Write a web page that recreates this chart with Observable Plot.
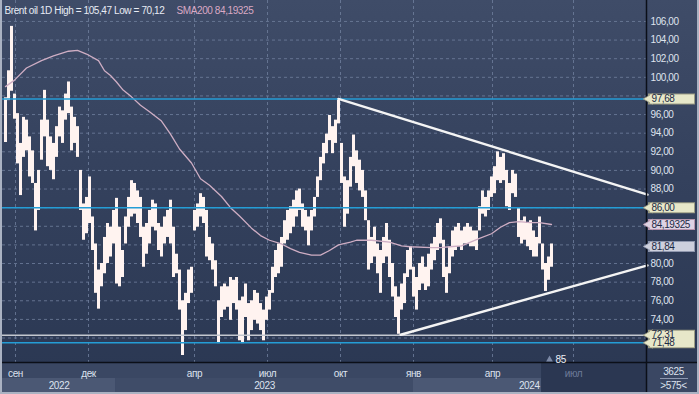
<!DOCTYPE html>
<html><head><meta charset="utf-8">
<script src="https://cdn.jsdelivr.net/npm/d3@7"></script>
<script src="https://cdn.jsdelivr.net/npm/@observablehq/plot@0.6"></script>
<style>
html,body{margin:0;padding:0;background:#2f3c58;}
#chart svg{display:block;}
#chart svg text{letter-spacing:-0.4px;}
</style></head><body><div id="chart"></div>
<script>
// ---- data (bar index = trading-time position, ~2.5 sessions per bar) ----
const highs = [97.8,100.7,105.47,98.2,96.1,92.9,95.7,95.4,93.6,92.1,88.6,90.0,95.4,98.6,95.4,93.6,92.9,94.7,96.8,96.4,
98.2,99.5,96.8,95.7,94.7,90.0,86.4,87.1,89.3,85.0,82.1,79.3,80.0,82.8,84.3,83.9,85.7,87.0,83.9,81.4,
85.0,87.1,88.9,88.6,87.8,87.1,83.9,84.3,85.7,86.8,86.4,84.3,83.9,85.0,85.7,86.8,83.9,81.0,79.3,76.0,
76.8,79.3,79.6,85.7,86.4,87.5,87.1,85.7,82.8,82.1,80.3,76.0,77.5,77.8,77.5,78.5,78.2,78.5,76.0,76.4,
77.8,75.7,76.0,77.1,76.8,75.7,75.0,76.4,77.1,79.6,81.4,82.1,82.8,84.6,85.7,86.1,86.8,87.8,88.0,86.4,
85.7,85.0,85.7,87.1,89.3,91.4,92.9,93.9,95.9,94.7,95.4,97.68,92.9,89.3,88.9,91.4,93.8,92.1,91.1,90.0,
87.8,84.6,82.8,83.9,82.1,81.4,82.8,84.3,82.5,80.0,77.5,76.4,77.8,78.9,81.4,81.8,79.6,78.5,80.0,80.7,
79.6,81.0,82.1,82.8,84.3,84.8,82.5,79.6,81.8,83.5,83.9,84.3,83.5,83.9,84.3,83.9,83.5,83.5,86.1,87.8,
87.1,87.8,89.3,90.4,92.0,91.4,91.8,90.0,88.6,90.0,89.6,85.9,84.6,85.0,84.3,84.6,83.5,82.8,85.0,82.1,
80.0,80.7,82.1];
const lows = [93.0,97.5,98.5,95.5,90.7,87.3,91.4,92.1,89.3,88.6,83.5,85.7,91.1,93.6,90.4,90.0,89.0,91.4,93.6,92.9,
95.4,96.1,92.1,92.9,91.4,85.7,82.5,83.2,84.3,81.4,76.8,75.1,77.5,78.9,80.0,80.7,82.1,77.8,77.5,78.5,
82.1,83.9,85.0,85.3,84.3,82.8,79.6,81.0,82.1,83.9,83.5,81.4,80.7,82.1,82.8,82.1,78.5,78.9,75.0,70.12,
72.8,75.7,76.8,83.5,83.9,85.0,84.3,80.7,80.3,79.3,77.5,71.4,74.2,75.0,75.3,73.9,75.7,75.0,71.7,71.4,
74.2,71.7,72.8,73.9,73.5,72.8,71.7,73.9,75.0,76.8,78.5,78.9,79.6,82.1,82.5,83.2,83.9,85.0,85.7,83.9,
83.5,81.9,83.5,85.0,87.1,88.9,90.7,91.8,93.2,91.8,92.9,95.0,88.6,83.9,85.3,88.2,90.4,88.6,87.8,87.1,
84.6,79.3,80.0,80.7,78.9,76.8,80.0,80.7,78.5,76.4,74.2,72.4,75.0,75.7,78.5,79.3,76.4,75.0,77.1,77.8,
77.1,77.5,79.3,80.3,81.4,82.1,78.5,76.8,78.9,80.7,81.4,81.8,81.4,82.1,82.1,81.8,81.8,81.4,83.5,85.3,
85.0,85.7,87.1,87.5,88.9,88.6,88.9,86.1,85.7,87.5,87.1,82.8,82.1,82.5,81.8,81.4,80.7,80.7,82.1,79.3,
77.0,78.2,79.6];
const smaIdx  = [1,4,8,13,17,22,25,28,32,34,36,38,40,43,46,49,53,56,59,63,66,69,73,76,79,83,86,89,93,96,99,103,106,109,112,116,118,123,129,133,136,143,146,149,153,156,159,163,166,169,172,176,179,183];
const smaVals = [99.0,99.7,101.0,101.8,102.3,102.8,102.9,102.5,101.8,100.7,100.2,99.5,98.7,97.9,97.0,96.3,95.3,93.9,92.3,90.8,89.1,88.4,87.2,86.0,85.1,83.8,83.0,82.5,82.1,81.6,81.2,80.9,80.9,81.4,82.0,82.3,82.5,82.5,82.3,81.9,81.8,81.7,81.7,81.8,81.9,82.3,82.7,83.2,83.9,84.4,84.5,84.4,84.4,84.19];
const yTicks = [72,74,76,78,80,82,84,86,88,90,92,94,96,98,100,102,104,106];
const monthTickIdx = [4.33,28.67,64,88.33,112.67,137,163.33,190.33];
const monthLabels = ["сен","дек","апр","июл","окт","янв","апр","июл"];
const yearLabels = ["2022","2023","2024"];
const yearStarts = [0,37.67,137];
const yearEnds = [37.67,137,179.7];
const cyanLevels = [97.68,86.00,71.48];
const greyLevel = [72.31];
const upperTrendIdx = [112,215], upperTrendVal = [97.68,87.4];
const lowerTrendIdx = [132.7,215], lowerTrendVal = [72.35,79.8];
const tagVals   = [71.48,72.31,97.68,86.00,84.19325,81.84];
const tagLabels = ["71,48","72,31","97,68","86,00","84,19325","81,84"];
const tagKinds  = ["level","level","level","level","sma","close"];
const titleMain = "Brent oil 1D High = 105,47 Low = 70,12";
const titleSma = "SMA200 84,19325";
const barCountLabel = "85";
const cornerTop = "3625", cornerBottom = ">575<";

// ---- tables ----
const bars = highs.map((h,k)=>({i:k+1, hi:h, lo:lows[k]}));
const lastIdx = bars.length;
const sma = smaIdx.map((i,k)=>({i, v:smaVals[k]}));
const months = monthTickIdx.map((i,k)=>({i, label:monthLabels[k]}));
const years = yearLabels.map((label,k)=>({label, s:yearStarts[k], e:yearEnds[k]}));
const yearsFull = years.slice(0, -1);
const yearLast = years.slice(-1);
const upper = upperTrendIdx.map((i,k)=>({i, v:upperTrendVal[k]}));
const lower = lowerTrendIdx.map((i,k)=>({i, v:lowerTrendVal[k]}));
const tags = tagVals.map((v,k)=>({v, label:tagLabels[k], kind:tagKinds[k]}));
// axis labels hidden behind the price tags are not drawn
const labelTicks = yTicks.filter(t => !tagVals.some(v => Math.abs(v - t) < 1.1));
const tagFill = {level:"#e7e7c9", sma:"#ddd3e4", close:"#cdd0dd"};
const tagEdge = {level:"#9c9c84", sma:"#b695ad", close:"#8f97ae"};

function bottomPanel(index, scales, values, dims) {
  const {width, height, marginRight, marginBottom} = dims;
  const g = d3.create("svg:g");
  const top = height - marginBottom;
  const right = width - marginRight;
  g.append("rect").attr("x",0).attr("y",top).attr("width",width).attr("height",marginBottom).attr("fill","#3a4763");
  years.forEach((y,k)=>{
    g.append("rect").attr("x",scales.x(y.s)).attr("y",top+16).attr("width",scales.x(y.e)-scales.x(y.s)).attr("height",14)
      .attr("fill", k%2===0 ? "#4b5874" : "#3f4c68");
  });
  const fs = scales.x(yearEnds[yearEnds.length-1]);
  g.append("rect").attr("x",fs).attr("y",top+1).attr("width",right-fs).attr("height",marginBottom-3).attr("fill","#2b3752");
  g.append("line").attr("x1",0).attr("x2",width).attr("y1",top+0.5).attr("y2",top+0.5).attr("stroke","#0b0f18").attr("stroke-width",1.5);
  g.append("line").attr("x1",right-0.5).attr("x2",right-0.5).attr("y1",0).attr("y2",height).attr("stroke","#0b0f18").attr("stroke-width",1.5);
  g.append("line").attr("x1",right+13).attr("x2",right+41).attr("y1",top+16.5).attr("y2",top+16.5).attr("stroke","#8d98b0").attr("stroke-width",1);
  g.append("rect").attr("x",0).attr("y",0).attr("width",2).attr("height",height).attr("fill","#aab2c2");
  g.append("rect").attr("x",width-2).attr("y",0).attr("width",2).attr("height",height).attr("fill","#aab2c2");
  g.append("rect").attr("x",0).attr("y",height-2).attr("width",width).attr("height",2).attr("fill","#aab2c2");
  return g.node();
}

const fmt = d => d.toFixed(2).replace(".", ",");

const chart = Plot.plot({
  width: 699, height: 394,
  marginLeft: 2, marginRight: 52, marginTop: 0, marginBottom: 32,
  x: {domain:[0,215], axis:null},
  y: {domain:[69.37,108.25], axis:null},
  color: {type:"identity"},
  style: {background:"linear-gradient(to bottom, #3f4c68 0%, #34415d 45%, #2a3752 100%)", fontFamily:"Liberation Sans, Arial, sans-serif", fontSize:"10px", overflow:"visible"},
  marks: [
    Plot.gridY(yTicks, {stroke:"#71809e", strokeOpacity:0.8, strokeDasharray:"3,3"}),
    Plot.gridX(monthTickIdx, {stroke:"#71809e", strokeOpacity:0.8, strokeDasharray:"3,3"}),
    Plot.ruleX(bars, {x:"i", y1:"lo", y2:"hi", stroke:"#fff3f0", strokeWidth:3}),
    Plot.line(sma, {x:"i", y:"v", stroke:"#cfaec4", strokeWidth:1.3}),
    Plot.ruleY(cyanLevels, {stroke:"#249dd6", strokeWidth:1.5}),
    Plot.ruleY(greyLevel, {stroke:"#c3c7cf", strokeWidth:1.5}),
    Plot.line(upper, {x:"i", y:"v", stroke:"#f4f4f4", strokeWidth:2.4}),
    Plot.line(lower, {x:"i", y:"v", stroke:"#f4f4f4", strokeWidth:2.4}),
    bottomPanel,
    Plot.axisY(labelTicks, {anchor:"right", tickSize:0, tickPadding:3, tickFormat:fmt, fill:"#dfe3ee", fontSize:10, label:null}),
    Plot.ruleY(tags, {y:"v", stroke:d=>tagEdge[d.kind], strokeWidth:11, insetLeft:646, insetRight:-48}),
    Plot.dot(tags, {y:"v", frameAnchor:"right", symbol:"triangle", rotate:-90, r:4, dx:2, fill:d=>tagFill[d.kind], stroke:d=>tagEdge[d.kind], strokeWidth:0.8}),
    Plot.ruleY(tags, {y:"v", stroke:d=>tagFill[d.kind], strokeWidth:9, insetLeft:648, insetRight:-47}),
    Plot.text(tags, {y:"v", text:"label", frameAnchor:"right", textAnchor:"start", dx:4, fill:"#1d2a44", fontSize:10}),
    Plot.text(months, {x:"i", text:"label", frameAnchor:"bottom", lineAnchor:"middle", dy:11, fill:d=>d.i>lastIdx?"#6e7c9a":"#dde2ee", fontSize:10}),
    Plot.text(yearsFull, {x:d=>(d.s+d.e)/2, text:"label", frameAnchor:"bottom", lineAnchor:"middle", dy:23, textAnchor:"middle", fill:"#dde2ee", fontSize:10}),
    Plot.text(yearLast, {x:"e", text:"label", frameAnchor:"bottom", lineAnchor:"middle", dy:23, dx:-2, textAnchor:"end", fill:"#dde2ee", fontSize:10}),
    Plot.text([cornerTop], {frameAnchor:"bottom-right", text:d=>d, textAnchor:"middle", lineAnchor:"middle", dx:26, dy:9.5, fill:"#dde2ee", fontSize:10}),
    Plot.text([cornerBottom], {frameAnchor:"bottom-right", text:d=>d, textAnchor:"middle", lineAnchor:"middle", dx:26, dy:23.5, fill:"#dde2ee", fontSize:10}),
    Plot.dot([lastIdx], {x:d=>d, frameAnchor:"bottom", symbol:"triangle", r:2.5, dx:-2, dy:-3, fill:"#7d8aa6"}),
    Plot.text([lastIdx], {x:d=>d, text:()=>barCountLabel, frameAnchor:"bottom", textAnchor:"start", lineAnchor:"middle", dx:4, dy:-3, fill:"#eef0f6", fontSize:10}),
    Plot.text([titleMain], {frameAnchor:"top-left", text:d=>d, textAnchor:"start", lineAnchor:"middle", dx:2, dy:10, fill:"#e8ecf4", fontSize:10}),
    Plot.text([titleSma], {frameAnchor:"top-left", text:d=>d, textAnchor:"start", lineAnchor:"middle", dx:174, dy:10, fill:"#d9a9c4", fontSize:10})
  ]
});
document.getElementById("chart").append(chart);
</script>
</body></html>
